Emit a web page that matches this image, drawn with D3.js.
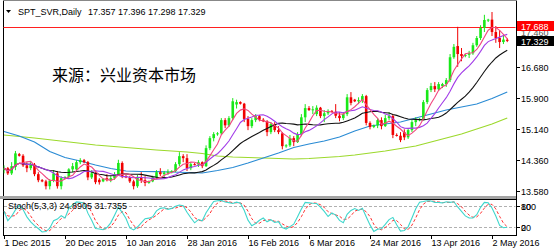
<!DOCTYPE html>
<html>
<head>
<meta charset="utf-8">
<script src="https://cdn.jsdelivr.net/npm/d3@7/dist/d3.min.js"></script>
<style>
body { margin: 0; background: #fff; }
svg { display: block; }
text { font-family: "Liberation Sans", Arial, sans-serif; font-size: 9px; fill: #000; }
</style>
</head>
<body>
<svg id="chart" width="554" height="249"></svg>
<script>
// daily bars, 1 Dec 2015 .. 6 May 2016 (broker has Sunday bars)
var opens  = [14.10,14.15,14.02,14.18,14.50,14.46,14.22,14.15,14.24,14.00,13.85,13.82,13.70,13.84,14.02,13.70,13.90,13.93,14.12,14.12,14.30,14.35,14.30,13.92,14.02,13.86,13.82,13.90,13.85,13.90,14.00,14.28,13.95,13.92,13.82,13.70,13.92,13.85,13.78,13.82,13.92,14.05,14.00,14.04,14.06,14.08,14.25,14.45,14.40,14.15,14.25,14.24,14.30,14.20,14.65,14.90,15.00,15.02,15.35,15.22,15.40,15.74,15.80,15.76,15.38,15.20,15.35,15.45,15.36,15.32,15.05,15.25,15.10,15.02,14.70,14.72,14.90,14.80,15.00,15.42,15.65,15.60,15.50,15.66,15.45,15.52,15.58,15.56,15.46,15.40,15.50,15.92,15.86,15.82,15.85,15.95,15.28,15.18,15.22,15.35,15.20,15.40,15.45,14.98,14.96,15.05,14.92,15.10,15.30,15.35,15.38,15.80,16.10,16.20,16.12,16.20,16.25,16.35,16.92,17.20,17.00,16.95,16.98,17.02,17.22,17.40,17.65,17.85,17.86,17.55,17.40,17.30,17.357];
var highs  = [14.22,14.18,14.30,14.58,14.53,14.50,14.30,14.30,14.28,14.05,13.88,13.86,13.88,14.10,14.08,13.95,13.95,14.15,14.28,14.35,14.40,14.38,14.33,14.10,14.05,13.90,13.90,14.00,13.95,14.05,14.36,14.32,13.98,13.96,13.86,13.98,14.05,13.95,13.84,13.96,14.10,14.15,14.08,14.12,14.10,14.30,14.55,14.50,14.50,14.30,14.28,14.35,14.32,14.72,14.95,15.05,15.05,15.40,15.40,15.45,15.90,15.86,15.82,15.78,15.45,15.40,15.50,15.48,15.40,15.35,15.30,15.30,15.20,15.05,14.75,14.98,14.95,15.05,15.50,15.75,15.70,15.70,15.72,15.68,15.60,15.62,15.60,15.75,15.55,15.55,16.00,16.05,15.88,15.92,16.00,15.98,15.32,15.24,15.40,15.42,15.48,15.55,15.50,15.02,15.05,15.12,15.15,15.35,15.42,15.40,15.85,16.15,16.28,16.30,16.30,16.28,16.40,17.00,17.25,17.68,17.15,17.00,17.08,17.28,17.45,17.72,17.98,17.88,18.05,17.70,17.60,17.45,17.396];
var lows   = [14.02,13.98,13.98,14.10,14.44,14.18,14.05,14.10,13.95,13.80,13.80,13.62,13.62,13.80,13.64,13.62,13.88,13.90,14.05,14.08,14.25,14.28,13.85,13.88,13.75,13.74,13.80,13.82,13.80,13.86,13.98,13.90,13.90,13.78,13.62,13.66,13.78,13.70,13.76,13.80,13.88,13.95,13.92,13.98,14.02,14.05,14.20,14.30,14.08,14.10,14.22,14.18,14.15,14.18,14.60,14.82,14.96,14.98,15.15,15.18,15.35,15.64,15.74,15.30,15.10,15.15,15.30,15.32,15.30,14.95,15.00,15.05,15.00,14.62,14.66,14.68,14.70,14.78,14.95,15.30,15.58,15.50,15.45,15.40,15.30,15.48,15.54,15.40,15.32,15.35,15.45,15.72,15.80,15.75,15.78,15.22,15.12,15.15,15.15,15.12,15.18,15.35,14.90,14.94,14.80,14.85,14.88,15.05,15.20,15.32,15.35,15.75,16.05,16.05,16.08,16.15,16.18,16.30,16.88,16.68,16.82,16.92,16.90,16.98,17.18,17.35,17.55,17.80,17.45,17.28,17.15,17.25,17.298];
var closes = [14.15,14.02,14.20,14.52,14.46,14.22,14.15,14.25,14.00,13.85,13.82,13.70,13.84,14.02,13.70,13.90,13.93,14.12,14.20,14.30,14.35,14.30,13.92,14.02,13.80,13.80,13.88,13.85,13.90,14.00,14.28,13.95,13.92,13.82,13.70,13.92,13.85,13.78,13.82,13.92,14.05,14.00,14.04,14.06,14.08,14.25,14.45,14.40,14.15,14.25,14.24,14.30,14.20,14.65,14.90,15.00,15.02,15.35,15.22,15.40,15.82,15.80,15.76,15.38,15.20,15.35,15.45,15.36,15.32,15.05,15.25,15.10,15.05,14.70,14.72,14.90,14.80,15.00,15.42,15.65,15.60,15.62,15.66,15.45,15.52,15.58,15.56,15.46,15.40,15.50,15.92,15.78,15.82,15.85,15.95,15.28,15.18,15.22,15.35,15.20,15.40,15.45,14.98,14.96,14.85,14.92,15.10,15.30,15.35,15.38,15.80,16.10,16.20,16.12,16.25,16.25,16.35,16.92,17.18,17.00,16.95,16.98,17.02,17.22,17.40,17.65,17.85,17.86,17.55,17.40,17.30,17.36,17.329];

// long moving averages (bar index -> value)
var blueMaIdx = [0,4,8,12,16,20,24,28,32,36,40,44,48,52,56,60,64,68,72,76,80,84,88,92,96,100,104,108,112,116,120,124,128,132];
var blueMaVal = [15.066,14.954,14.804,14.567,14.417,14.329,14.229,14.142,14.080,14.067,14.062,14.055,14.042,14.030,14.092,14.167,14.279,14.404,14.529,14.666,14.754,14.829,14.929,15.078,15.203,15.253,15.303,15.403,15.503,15.603,15.678,15.753,15.890,16.053];
var greenMaIdx = [0,8,16,24,32,40,48,52,56,60,64,68,72,76,80,84,88,92,96,100,104,108,112,116,120,124,128,132];
var greenMaVal = [14.979,14.904,14.816,14.729,14.666,14.604,14.554,14.517,14.454,14.429,14.417,14.404,14.392,14.379,14.392,14.417,14.442,14.479,14.529,14.579,14.641,14.704,14.804,14.904,15.004,15.128,15.253,15.403];

var dateLabels = ["1 Dec 2015","20 Dec 2015","10 Jan 2016","28 Jan 2016","16 Feb 2016","6 Mar 2016","24 Mar 2016","13 Apr 2016","2 May 2016"];
var dateIdx = [0,16,32,48,64,80,96,112,128];
var priceTicks = [13.580, 14.360, 15.140, 15.900, 16.680];
var stochLevels = [20, 80];

var svg = d3.select("#chart");
var x = d3.scaleLinear().domain([0, 128]).range([4, 492]);
var y = d3.scaleLinear().domain([13.58, 17.688]).range([191, 26.5]);
var ys = d3.scaleLinear().domain([0, 100]).range([234.4, 198.9]);
var n = closes.length;
var idx = d3.range(n);

function sma(arr, p) {
  return arr.map(function (v, i) {
    var s = Math.max(0, i - p + 1);
    return d3.mean(arr.slice(s, i + 1));
  });
}

// stochastic 5,3,3
var hh = idx.map(function (i) { return d3.max(highs.slice(Math.max(0, i - 4), i + 1)); });
var ll = idx.map(function (i) { return d3.min(lows.slice(Math.max(0, i - 4), i + 1)); });
var stK = idx.map(function (i) {
  var num = 0, den = 0;
  for (var j = Math.max(0, i - 2); j <= i; j++) { num += closes[j] - ll[j]; den += hh[j] - ll[j]; }
  return den === 0 ? 50 : num / den * 100;
});
var stD = sma(stK, 3);

var defs = svg.append("defs");
defs.append("clipPath").attr("id", "mainClip").append("rect")
  .attr("x", 3.5).attr("y", 1).attr("width", 512).attr("height", 194.5);
defs.append("clipPath").attr("id", "subClip").append("rect")
  .attr("x", 3.5).attr("y", 200).attr("width", 512).attr("height", 34.5);

// frames
svg.append("line").attr("x1", 3.5).attr("x2", 3.5).attr("y1", 0).attr("y2", 235.5).attr("stroke", "#000");
svg.append("line").attr("x1", 516.5).attr("x2", 516.5).attr("y1", 0).attr("y2", 235.5).attr("stroke", "#000");
svg.append("line").attr("x1", 3).attr("x2", 517).attr("y1", 0.5).attr("y2", 0.5).attr("stroke", "#888");
svg.append("rect").attr("x", 0).attr("y", 196).attr("width", 516).attr("height", 3).attr("fill", "#a4a4a4");
svg.append("line").attr("x1", 3).attr("x2", 517).attr("y1", 199.5).attr("y2", 199.5).attr("stroke", "#000");
svg.append("line").attr("x1", 3).attr("x2", 517).attr("y1", 235.5).attr("y2", 235.5).attr("stroke", "#000");

var main = svg.append("g").attr("clip-path", "url(#mainClip)");

// resistance line
main.append("line").attr("x1", 3).attr("x2", 517)
  .attr("y1", Math.round(y(17.688)) + 0.5).attr("y2", Math.round(y(17.688)) + 0.5)
  .attr("stroke", "#ff2020");

var lineGen = d3.line().x(function (d) { return x(d[0]); }).y(function (d) { return y(d[1]); });

main.append("path").datum(greenMaIdx.map(function (d, i) { return [d, greenMaVal[i]]; }))
  .attr("d", lineGen).attr("fill", "none").attr("stroke", "#9cd92c").attr("stroke-width", 1.2);
main.append("path").datum(blueMaIdx.map(function (d, i) { return [d, blueMaVal[i]]; }))
  .attr("d", lineGen).attr("fill", "none").attr("stroke", "#2a8bd4").attr("stroke-width", 1.2);

// candles
var candle = main.selectAll("g.c").data(idx).enter().append("g").attr("class", "c");
candle.append("line")
  .attr("x1", function (i) { return x(i); }).attr("x2", function (i) { return x(i); })
  .attr("y1", function (i) { return y(highs[i]); }).attr("y2", function (i) { return y(lows[i]); })
  .attr("stroke", function (i) { return closes[i] >= opens[i] ? "#18e818" : "#f00000"; });
candle.append("rect")
  .attr("x", function (i) { return x(i) - 1.3; })
  .attr("width", 2.6)
  .attr("y", function (i) { return y(Math.max(opens[i], closes[i])); })
  .attr("height", function (i) { return Math.max(1, Math.abs(y(opens[i]) - y(closes[i]))); })
  .attr("fill", function (i) { return closes[i] >= opens[i] ? "#18e818" : "#f00000"; });

var maLine = d3.line().x(function (d, i) { return x(i); }).y(function (d) { return y(d); });
main.append("path").datum(sma(closes, 20)).attr("d", maLine).attr("fill", "none").attr("stroke", "#111").attr("stroke-width", 1.1);
main.append("path").datum(sma(closes, 10)).attr("d", maLine).attr("fill", "none").attr("stroke", "#a23ce8").attr("stroke-width", 1.1);
main.append("path").datum(sma(closes, 5)).attr("d", maLine).attr("fill", "none").attr("stroke", "#f2467f").attr("stroke-width", 1.1);

// title
svg.append("path").attr("d", "M6,10 L11,10 L8.5,13 Z").attr("fill", "#000");
svg.append("text").attr("x", 18).attr("y", 15).text("SPT_SVR,Daily");
svg.append("text").attr("x", 88).attr("y", 15).text("17.357 17.396 17.298 17.329");
svg.append("text").attr("x", 52).attr("y", 81)
  .style("font-family", "'Noto Sans CJK SC', sans-serif").style("font-size", "16px")
  .text("来源：兴业资本市场");

// price axis
priceTicks.forEach(function (v) {
  var py = Math.round(y(v)) + 0.5;
  svg.append("line").attr("x1", 516).attr("x2", 520).attr("y1", py).attr("y2", py).attr("stroke", "#000");
  svg.append("text").attr("x", 521).attr("y", py + 3.5).text(v.toFixed(3));
});
svg.append("text").attr("x", 521).attr("y", 36).style("fill", "#555").text("17.460");
svg.append("rect").attr("x", 517).attr("y", 21).attr("width", 37).attr("height", 10).attr("fill", "#ff0000");
svg.append("text").attr("x", 521).attr("y", 29.5).style("fill", "#fff").text("17.688");
svg.append("rect").attr("x", 517).attr("y", 36).attr("width", 37).attr("height", 10).attr("fill", "#000");
svg.append("text").attr("x", 521).attr("y", 44.5).style("fill", "#fff").text("17.329");

// stochastic panel
var sub = svg.append("g").attr("clip-path", "url(#subClip)");
stochLevels.forEach(function (v) {
  sub.append("line").attr("x1", 4).attr("x2", 516)
    .attr("y1", Math.round(ys(v)) + 0.5).attr("y2", Math.round(ys(v)) + 0.5)
    .attr("stroke", "#b0b0b0").attr("stroke-dasharray", "3,2");
});
var stLine = d3.line().x(function (d, i) { return x(i); }).y(function (d) { return ys(d); });
sub.append("path").datum(stD).attr("d", stLine).attr("fill", "none")
  .attr("stroke", "#ff3030").attr("stroke-dasharray", "3,2");
sub.append("path").datum(stK).attr("d", stLine).attr("fill", "none")
  .attr("stroke", "#3fd6cc").attr("stroke-width", 1.1);
svg.append("text").attr("x", 8).attr("y", 209).text("Stoch(5,3,3) 24.8905 31.7355");
[[100, 80], [0, 20]].forEach(function (pair) {
  var py = Math.round(ys(pair[1])) + 0.5;
  svg.append("line").attr("x1", 516).attr("x2", 520).attr("y1", py).attr("y2", py).attr("stroke", "#000");
  svg.append("text").attr("x", 521).attr("y", py + 3.5).text(pair[0]);
  svg.append("text").attr("x", 521).attr("y", py + 3.5).text(pair[1]);
});

// date axis
dateIdx.forEach(function (d, i) {
  var px = Math.round(x(d)) + 0.5;
  svg.append("line").attr("x1", px).attr("x2", px).attr("y1", 235).attr("y2", 239).attr("stroke", "#000");
  svg.append("text").attr("x", px).attr("y", 246).text(dateLabels[i]);
});
</script>
</body>
</html>
